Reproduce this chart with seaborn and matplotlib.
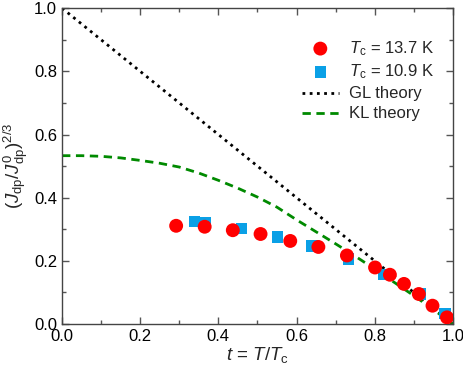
import matplotlib
matplotlib.use("Agg")
import matplotlib.pyplot as plt
from matplotlib.ticker import MultipleLocator
import seaborn as sns
import pandas as pd

# reduced temperature t = T/Tc and (Jdp/J0dp)^(2/3)
t_137 = [0.292, 0.365, 0.437, 0.508, 0.584, 0.656, 0.729, 0.801, 0.839, 0.875, 0.913, 0.948, 0.985]
y_137 = [0.311, 0.308, 0.297, 0.285, 0.263, 0.244, 0.217, 0.179, 0.156, 0.127, 0.095, 0.058, 0.021]

t_109 = [0.339, 0.367, 0.459, 0.551, 0.640, 0.733, 0.824, 0.917, 0.980]
y_109 = [0.324, 0.321, 0.302, 0.276, 0.247, 0.206, 0.157, 0.095, 0.033]

t_gl = [0.0, 1.0]
y_gl = [1.0, 0.0]

t_kl = [0.0, 0.05, 0.10, 0.15, 0.20, 0.25, 0.30, 0.35, 0.40, 0.45, 0.50, 0.55, 0.60,
        0.65, 0.70, 0.75, 0.80, 0.85, 0.90, 0.95, 1.0]
y_kl = [0.533, 0.533, 0.531, 0.526, 0.518, 0.509, 0.497, 0.478, 0.455, 0.430, 0.402,
        0.370, 0.330, 0.292, 0.254, 0.215, 0.174, 0.132, 0.090, 0.046, 0.0]

sns.set_style("ticks")
plt.rcParams["font.family"] = ["Liberation Sans", "DejaVu Sans"]
plt.rcParams["mathtext.fontset"] = "custom"
plt.rcParams["mathtext.rm"] = "Liberation Sans"
plt.rcParams["mathtext.it"] = "Liberation Sans:italic"
plt.rcParams["mathtext.bf"] = "Liberation Sans:bold"

fig = plt.figure(figsize=(4.63, 3.72), dpi=100)
ax = fig.add_axes([0.134, 0.129, 0.844, 0.849])

d137 = pd.DataFrame({"t": t_137, "y": y_137})
d109 = pd.DataFrame({"t": t_109, "y": y_109})
dgl = pd.DataFrame({"t": t_gl, "y": y_gl})
dkl = pd.DataFrame({"t": t_kl, "y": y_kl})

sns.lineplot(data=dgl, x="t", y="y", ax=ax, color="black", linestyle=(0, (1, 1.6)),
             lw=2.0, label="GL theory", zorder=2)
sns.lineplot(data=dkl, x="t", y="y", ax=ax, color="#008a00", linestyle=(0, (3, 2)),
             lw=2.0, label="KL theory", zorder=2)
sns.scatterplot(data=d109, x="t", y="y", ax=ax, marker="s", s=70, color="#0aa0e6",
                edgecolor="none", label=r"$T_{\rm c}$ = 10.9 K", zorder=3)
sns.scatterplot(data=d137, x="t", y="y", ax=ax, marker="o", s=100, color="#ff0000",
                edgecolor="none", label=r"$T_{\rm c}$ = 13.7 K", zorder=4)

ax.set_xlim(0, 1)
ax.set_ylim(0, 1)
ax.xaxis.set_major_locator(MultipleLocator(0.2))
ax.yaxis.set_major_locator(MultipleLocator(0.2))
ax.xaxis.set_minor_locator(MultipleLocator(0.1))
ax.yaxis.set_minor_locator(MultipleLocator(0.1))
ax.tick_params(which="both", direction="in", top=True, right=True, colors="#555555",
               labelcolor="black", labelsize=12)
ax.tick_params(which="major", length=5, width=1)
ax.tick_params(which="minor", length=3, width=1)
for s in ax.spines.values():
    s.set_color("#444444")
    s.set_linewidth(1.0)

ax.set_xlabel(r"$t$ = $T/T_{\rm c}$", fontsize=13.5, labelpad=1)
ax.set_ylabel(r"$(J_{\rm dp}/J^{0}_{\rm dp})^{2/3}$", fontsize=13.5, labelpad=3)

h, l = ax.get_legend_handles_labels()
order = [3, 2, 0, 1]
ax.legend([h[i] for i in order], [l[i] for i in order], loc="upper right",
          bbox_to_anchor=(0.99, 0.95), frameon=False, fontsize=12,
          handlelength=2.2, handletextpad=0.6, labelspacing=0.3)

fig.savefig("out.png", dpi=100)
